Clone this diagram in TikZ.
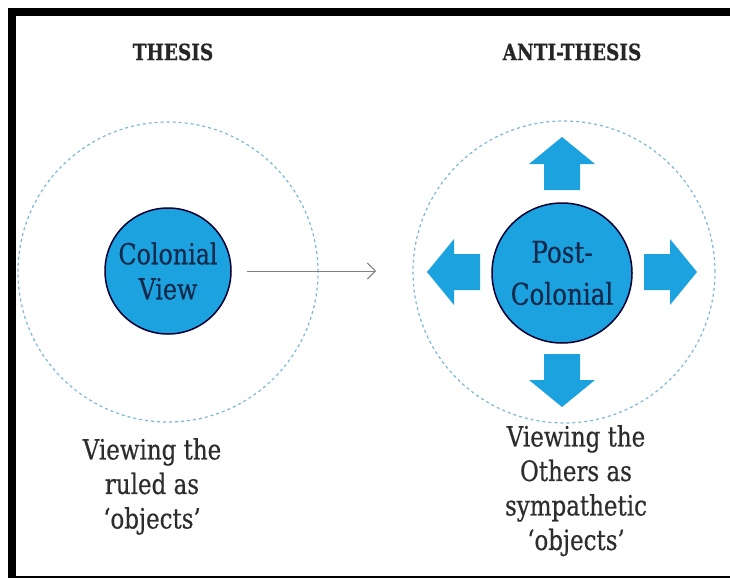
\documentclass[tikz,border=0pt]{standalone}
\usepackage{fontspec}
\setmainfont{DejaVu Serif}[FakeStretch=0.82,FakeBold=0.5]
\usetikzlibrary{arrows.meta}

\definecolor{discblue}{RGB}{29,162,224}
\definecolor{ringblue}{RGB}{125,185,215}
\definecolor{inkblue}{RGB}{18,42,75}
\definecolor{captiongray}{RGB}{45,45,45}

\begin{document}
\begin{tikzpicture}[x=1pt,y=-1pt,
  disc/.style={circle, fill=discblue, draw=black!80!blue, line width=1.5pt,
    text=inkblue, align=center, inner sep=0pt},
  ring/.style={circle, draw=ringblue, dash pattern=on 3pt off 3pt,
    line width=1.2pt, inner sep=0pt},
  heading/.style={font=\bfseries\fontsize{22.5}{26}\selectfont, text=black!85},
  caption/.style={align=center, text=captiongray,
    font=\fontsize{28}{34.5}\selectfont, inner sep=0pt, anchor=north},
  blockarrow/.style={fill=discblue},
  link/.style={draw=gray, line width=1pt,
    -{Straight Barb[length=8pt,width=16pt]}}
]
\useasboundingbox (0,0) rectangle (730,578);
\fill[white] (0,0) rectangle (730,578);

% frame (open on the right)
\fill[black] (8,8) rectangle (730,16);
\fill[black] (8,8) rectangle (16,578);
\fill[black] (8,576) rectangle (730,578);

% headings
\node[heading] (thesis) at (173,52) {THESIS};
\node[heading] (antithesis) at (572,52) {ANTI-THESIS};

% thesis side
\node[ring, minimum size=300pt] (ringL) at (168,272) {};
\node[disc, minimum size=126pt, font=\fontsize{29}{35}\selectfont]
  (colonial) at (168,271) {Colonial\\View};
\coordinate (arrowend) at (376,271);
\draw[link] ([xshift=15pt]colonial.east) -- (arrowend);
\node[caption] (captionL) at (152,438) {Viewing the\\ruled as\\`objects'};

% anti-thesis side
\node[ring, minimum size=302pt] (ringR) at (564,272) {};
\begin{scope}[shift={(562,272)}]
  \foreach \a in {0,90,180,270}
    \fill[blockarrow, rotate=\a] (82,-18) -- (108,-18) -- (108,-33)
      -- (135,0) -- (108,33) -- (108,18) -- (82,18) -- cycle;
\end{scope}
\node[disc, minimum size=140pt, font=\fontsize{30}{42}\selectfont]
  (postcolonial) at (562,273) {Post-\\Colonial};
\node[caption] (captionR) at (576,425)
  {Viewing the\\Others as\\sympathetic\\`objects'};
\end{tikzpicture}
\end{document}
